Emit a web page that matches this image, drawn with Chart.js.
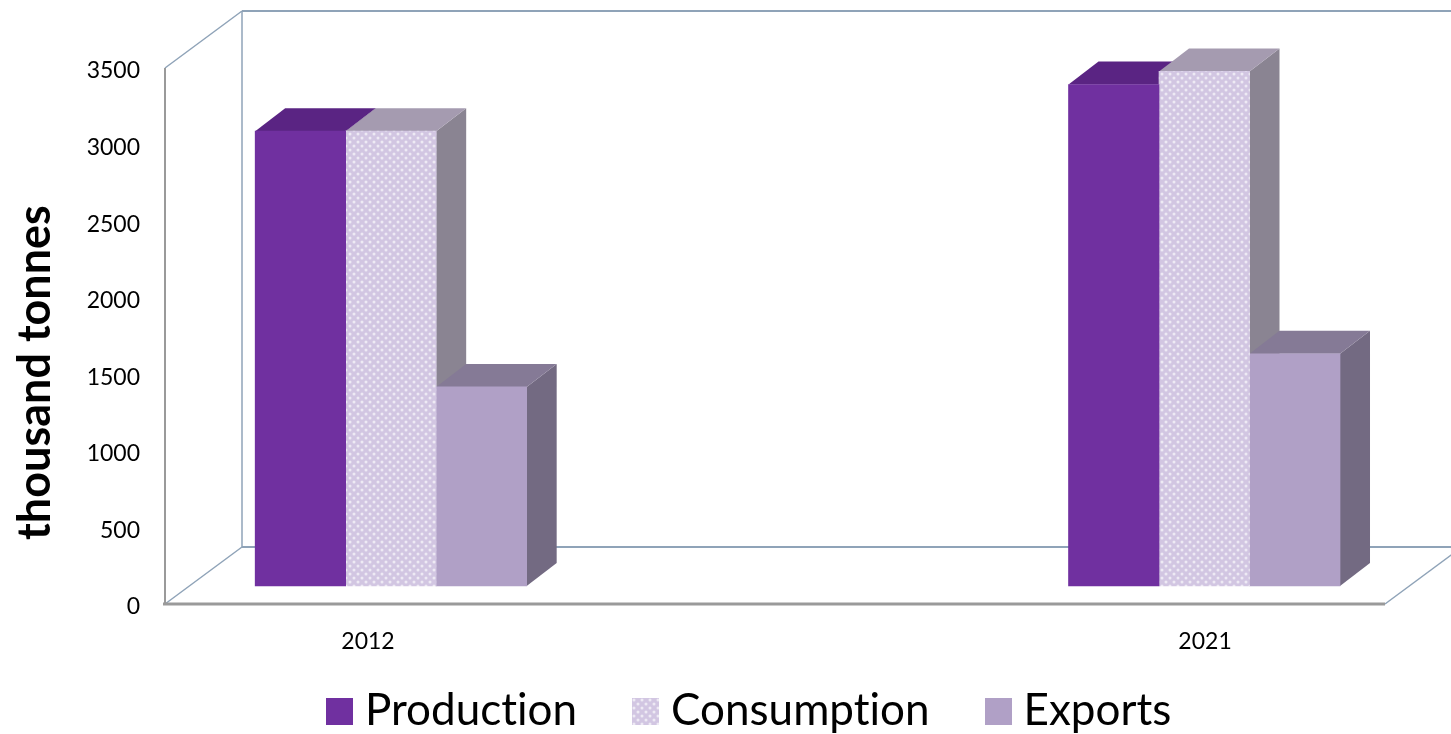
<!DOCTYPE html>
<html>
<head>
<meta charset="utf-8">
<title>Production, consumption and exports</title>
<script src="https://cdn.jsdelivr.net/npm/chart.js@4"></script>
<style>
  html, body { margin: 0; padding: 0; background: #fff; }
  #wrap { position: relative; width: 1451px; height: 734px; overflow: hidden; }
  #chart { font-variant-ligatures: none; }
  #legend { position: absolute; top: 685px; left: 326px; display: flex; align-items: center;
            font-family: Lato, sans-serif; font-size: 44px; line-height: 52px; color: #000; white-space: nowrap;
            font-variant-ligatures: none; }
  #legend .item { display: flex; align-items: center; margin-right: 55px; }
  #legend canvas { width: 27px; height: 27px; margin-right: 12px; }
  #legend span { position: relative; top: -3px; }
</style>
</head>
<body>
<div id="wrap">
  <canvas id="chart" width="1451" height="734"></canvas>
  <div id="legend"></div>
</div>
<script>
const years = [2012, 2021];
const seriesNames = ["Production", "Consumption", "Exports"];
const production = [2970, 3275];
const consumption = [2970, 3360];
const exportsTonnes = [1300, 1516];
const yTicks = [0, 500, 1000, 1500, 2000, 2500, 3000, 3500];
const yTitle = "thousand tonnes";

const $ = (id) => document.getElementById(id);

// dotted fill used by the consumption bars
function dotTile() {
  const c = document.createElement("canvas");
  c.width = 8; c.height = 8;
  const g = c.getContext("2d");
  g.fillStyle = "#d2c6e2";
  g.fillRect(0, 0, 8, 8);
  g.fillStyle = "#eeeaf4";
  [[2, 2], [6, 6]].forEach(([x, y]) => {
    g.beginPath();
    g.arc(x, y, 1.5, 0, Math.PI * 2);
    g.fill();
  });
  return c;
}
const tile = dotTile();
const dotFill = document.createElement("canvas").getContext("2d").createPattern(tile, "repeat");

const front = ["#7030a0", dotFill, "#b0a0c6"];
const topFace = ["#5a2483", "#a59bb0", "#857a96"];
const sideFace = ["#5a2483", "#8a8492", "#736a82"];

const BAR_DX = 30, BAR_DY = -23;   // depth of a bar
const BOX_DX = 77, BOX_DY = -57;   // depth of the floor and walls

function face(ctx, pts, fill) {
  ctx.fillStyle = fill;
  ctx.beginPath();
  pts.forEach(([x, y], i) => i ? ctx.lineTo(x, y) : ctx.moveTo(x, y));
  ctx.closePath();
  ctx.fill();
}

function line(ctx, color, width, x1, y1, x2, y2) {
  ctx.strokeStyle = color;
  ctx.lineWidth = width;
  ctx.beginPath();
  ctx.moveTo(x1, y1);
  ctx.lineTo(x2, y2);
  ctx.stroke();
}

// floor and wall outlines, then the top and side of every bar
const box3d = {
  id: "box3d",
  beforeDatasetsDraw(chart) {
    const { ctx, chartArea: a } = chart;
    const blue = "#8fa3b8", grey = "#9a9a9a";
    ctx.save();
    line(ctx, blue, 2, a.left + BOX_DX, a.top + BOX_DY, chart.width, a.top + BOX_DY);
    line(ctx, blue, 1.5, a.left + BOX_DX, a.top + BOX_DY, a.left + BOX_DX, a.bottom + BOX_DY);
    line(ctx, blue, 2, a.left + BOX_DX, a.bottom + BOX_DY, chart.width, a.bottom + BOX_DY);
    line(ctx, blue, 1.5, a.left, a.top, a.left + BOX_DX, a.top + BOX_DY);
    line(ctx, blue, 1.5, a.left, a.bottom, a.left + BOX_DX, a.bottom + BOX_DY);
    line(ctx, blue, 1.5, a.right, a.bottom, chart.width + 2, a.bottom + (chart.width + 2 - a.right) * BOX_DY / BOX_DX);
    line(ctx, grey, 2, a.left, a.top, a.left, a.bottom);
    line(ctx, grey, 3, a.left - 2, a.bottom, a.right, a.bottom);

    chart.data.datasets.forEach((ds, i) => {
      chart.getDatasetMeta(i).data.forEach((bar) => {
        const { x, y, base, width } = bar.getProps(["x", "y", "base", "width"], true);
        const l = x - width / 2, r = x + width / 2;
        face(ctx, [[r, y], [r + BAR_DX, y + BAR_DY], [r + BAR_DX, base + BAR_DY], [r, base]], sideFace[i]);
        face(ctx, [[l, y], [l + BAR_DX, y + BAR_DY], [r + BAR_DX, y + BAR_DY], [r, y]], topFace[i]);
      });
    });
    ctx.restore();
  },
  // axis title sits lower than the middle of the axis
  afterDraw(chart) {
    const { ctx } = chart;
    ctx.save();
    ctx.translate(50, 372.5);
    ctx.rotate(-Math.PI / 2);
    ctx.font = "bold 45px Lato";
    ctx.fillStyle = "#000";
    ctx.textAlign = "center";
    ctx.textBaseline = "alphabetic";
    ctx.fillText(yTitle, 0, 0);
    ctx.restore();
  }
};

const toPoints = (values) => values.map((v, i) => ({ x: years[i], y: v }));
const series = [production, consumption, exportsTonnes];

new Chart($("chart"), {
  type: "bar",
  data: {
    datasets: series.map((values, i) => ({
      label: seriesNames[i],
      data: toPoints(values),
      backgroundColor: front[i],
      borderWidth: 0,
      barThickness: 90.5,
      xAxisID: "xBars",
      yAxisID: "yBars"
    }))
  },
  plugins: [box3d],
  options: {
    responsive: false,
    animation: false,
    layout: { padding: { top: 68, right: 66, bottom: 0, left: 0 } },
    plugins: { legend: { display: false }, tooltip: { enabled: false } },
    scales: {
      // axes carrying the labels
      x: {
        type: "linear",
        offset: false,
        position: "bottom",
        min: 2009.817,
        max: 2022.935,
        grid: { display: false },
        border: { display: false },
        afterBuildTicks: (s) => { s.ticks = years.map((value) => ({ value })); },
        afterFit: (s) => { s.height = 130; },
        ticks: {
          callback: (v) => String(v),
          maxRotation: 0,
          autoSkip: false,
          padding: 16,
          color: "#000",
          font: { family: "Lato", size: 23 }
        }
      },
      y: {
        min: 0,
        max: 3500,
        position: "left",
        grid: { display: false },
        border: { display: false },
        afterBuildTicks: (s) => { s.ticks = yTicks.map((value) => ({ value })); },
        afterFit: (s) => { s.width = 165; },
        ticks: {
          callback: (v) => String(v),
          padding: 17,
          labelOffset: 3,
          color: "#000",
          font: { family: "Lato", size: 23 }
        }
      },
      // the bars stand on a plane set back from the front edge of the floor
      xBars: { type: "linear", offset: false, display: false, position: "bottom", min: 2009.5, max: 2023.0 },
      yBars: { display: false, position: "left", min: -117.5, max: 3382.5 }
    }
  }
});

// legend
seriesNames.forEach((name, i) => {
  const item = document.createElement("div");
  item.className = "item";
  const sw = document.createElement("canvas");
  sw.width = 27; sw.height = 27;
  const g = sw.getContext("2d");
  g.fillStyle = i === 1 ? g.createPattern(tile, "repeat") : front[i];
  g.fillRect(0, 0, 27, 27);
  const label = document.createElement("span");
  label.textContent = name;
  item.append(sw, label);
  $("legend").appendChild(item);
});
</script>
</body>
</html>
